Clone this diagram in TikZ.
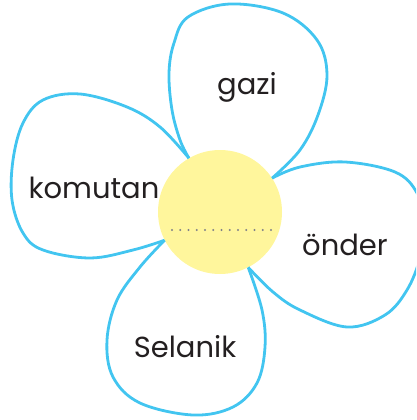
\documentclass[tikz,border=0pt]{standalone}
\usepackage{fontspec}
\setmainfont{Poppins}
\definecolor{petalblue}{RGB}{66,197,240}
\definecolor{sunyellow}{RGB}{255,246,156}
\definecolor{dotgrey}{RGB}{128,128,136}
\definecolor{inkblack}{RGB}{35,31,32}

\begin{document}
\begin{tikzpicture}[x=1pt, y=-1pt,
    petal/.style={draw=petalblue, line width=2.8pt, line join=round},
    word/.style={anchor=base, inner sep=0pt, text=inkblack, font=\fontsize{29}{29}\selectfont}]

\useasboundingbox (0,0) rectangle (416,420);
\clip (0,0) rectangle (416,420);

\node [circle, fill=sunyellow, minimum size=124pt, inner sep=0pt] (sun) at (220,212) {};

% petals
\draw [petal] plot [smooth, tension=0.6] coordinates {(sun.120) (180,140) (172,110) (169,73) (174,43) (188,17) (230,4) (283,13) (317,40) (327,75) (318,115) (300,150) (sun.33)};
\draw [petal] plot [smooth, tension=0.6] coordinates {(sun.120) (160,127) (127,107) (80,94) (43,100) (23,123) (13,160) (12,200) (23,233) (43,250) (90,258) (133,250) (sun.207)};
\draw [petal] plot [smooth, tension=0.6] coordinates {(sun.207) (140,267) (117,300) (107,340) (113,377) (140,403) (193,415) (233,407) (257,383) (265,347) (262,310) (sun.297)};
\draw [petal] plot [smooth, tension=0.6] coordinates {(sun.297) (273,292) (300,310) (347,327) (385,315) (407,290) (420,258) (425,225) (417,193) (395,172) (345,162) (300,167) (sun.33)};

\draw [dotgrey, line width=2.4pt, line cap=round, dash pattern=on 0pt off 8.25pt] (172,230) -- (271,230);

% words
\node [word] (gazi) at (247,94) {gazi};
\node [word] (komutan) at (94,198) {komutan};
\node [word] (onder) at (345,255) {önder};
\node [word] (selanik) at (185,357) {Selanik};

\end{tikzpicture}
\end{document}
